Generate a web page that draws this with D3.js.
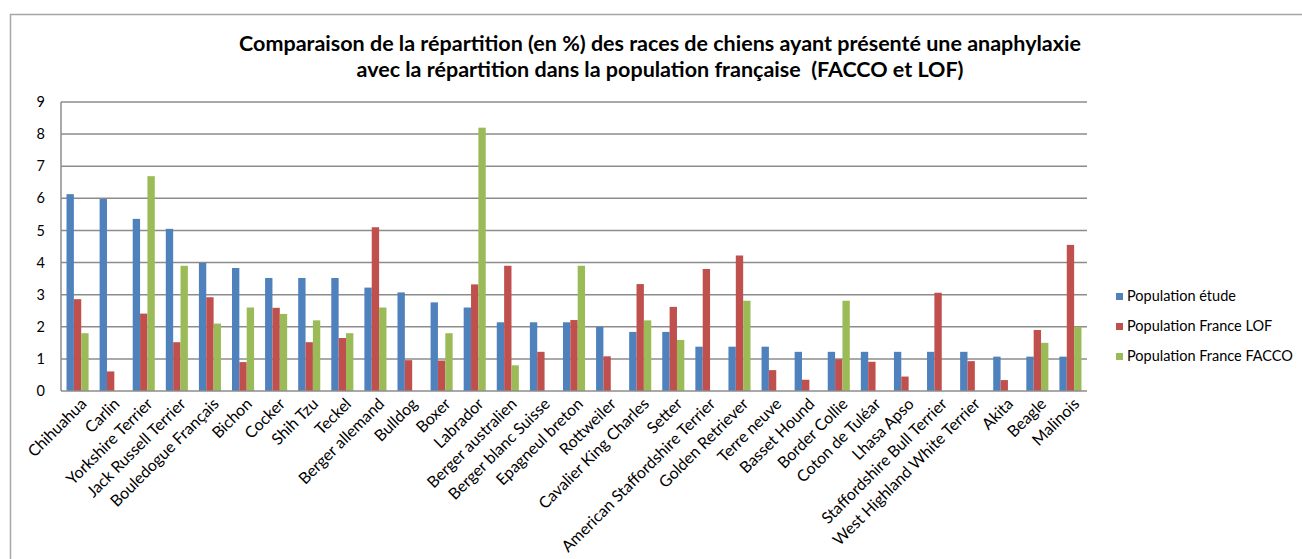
<!DOCTYPE html>
<html>
<head>
<meta charset="utf-8">
<script src="https://cdn.jsdelivr.net/npm/d3@7"></script>
<style>
  body { margin: 0; background: #fff; }
  svg text { font-family: Lato, "Open Sans", sans-serif; fill: #000; white-space: pre; }
</style>
</head>
<body>
<div id="canvas"></div>
<script>
const breeds = ['Chihuahua', 'Carlin', 'Yorkshire Terrier', 'Jack Russell Terrier', 'Bouledogue Français',
  'Bichon', 'Cocker', 'Shih Tzu', 'Teckel', 'Berger allemand', 'Bulldog', 'Boxer', 'Labrador',
  'Berger australien', 'Berger blanc Suisse', 'Epagneul breton', 'Rottweiler', 'Cavalier King Charles',
  'Setter', 'American Staffordshire Terrier', 'Golden Retriever', 'Terre neuve', 'Basset Hound',
  'Border Collie', 'Coton de Tuléar', 'Lhasa Apso', 'Staffordshire Bull Terrier',
  'West Highland White Terrier', 'Akita', 'Beagle', 'Malinois'];

const popEtude = [6.13, 5.98, 5.36, 5.05, 3.99, 3.83, 3.52, 3.52, 3.52, 3.22, 3.07, 2.76, 2.60,
  2.14, 2.14, 2.14, 2.00, 1.84, 1.84, 1.38, 1.38, 1.38, 1.22, 1.22, 1.22, 1.22, 1.22, 1.22, 1.07, 1.07, 1.07];
const popLOF = [2.86, 0.61, 2.41, 1.52, 2.92, 0.90, 2.59, 1.52, 1.65, 5.10, 0.96, 0.95, 3.32,
  3.90, 1.22, 2.21, 1.08, 3.33, 2.62, 3.80, 4.22, 0.65, 0.35, 0.99, 0.91, 0.45, 3.06, 0.93, 0.34, 1.90, 4.55];
const popFACCO = [1.80, 0, 6.69, 3.90, 2.10, 2.60, 2.40, 2.20, 1.80, 2.60, 0, 1.80, 8.20,
  0.80, 0, 3.90, 0, 2.20, 1.59, 0, 2.81, 0, 0, 2.81, 0, 0, 0, 0, 0, 1.50, 2.00];

const seriesNames = ['Population étude', 'Population France LOF', 'Population France FACCO'];
const seriesColors = ['#4F81BD', '#C0504D', '#9BBB59'];
const yTicks = [0, 1, 2, 3, 4, 5, 6, 7, 8, 9];

const w = 1302;
const h = 559;
const plot = { left: 61, right: 1087, top: 102, bottom: 391 };

const svg = d3.select('#canvas')
  .append('svg')
  .attr('width', w)
  .attr('height', h);

// chart frame
svg.append('rect')
  .attr('x', 10.5).attr('y', 14.5)
  .attr('width', 1400).attr('height', 700)
  .attr('fill', 'none')
  .attr('stroke', '#a6a6a6')
  .attr('stroke-width', 1.5);

// title
const title = svg.append('text')
  .attr('text-anchor', 'middle')
  .style('font-weight', 'bold')
  .style('font-size', '21.5px');
title.append('tspan').attr('x', 660).attr('y', 51)
  .text('Comparaison de la répartition (en %) des races de chiens ayant présenté une anaphylaxie');
title.append('tspan').attr('x', 660).attr('y', 77)
  .text('avec la répartition dans la population française  (FACCO et LOF)');

const xScale = d3.scaleBand()
  .domain(breeds)
  .range([plot.left, plot.right]);

const xInner = d3.scaleBand()
  .domain(d3.range(3))
  .range([0, xScale.bandwidth()])
  .paddingOuter(0.75);

const yScale = d3.scaleLinear()
  .domain([0, 9])
  .range([plot.bottom, plot.top]);

// gridlines
svg.append('g')
  .selectAll('line')
  .data(yTicks.slice(1))
  .enter()
  .append('line')
  .attr('x1', plot.left)
  .attr('x2', plot.right)
  .attr('y1', d => yScale(d))
  .attr('y2', d => yScale(d))
  .attr('stroke', '#8c8c8c')
  .attr('stroke-width', 1.5);

// y axis labels
svg.append('g')
  .selectAll('text')
  .data(yTicks)
  .enter()
  .append('text')
  .attr('x', 45)
  .attr('y', d => yScale(d))
  .attr('dy', '0.35em')
  .attr('text-anchor', 'end')
  .style('font-size', '14.5px')
  .text(d => d);

// bars
const table = breeds.map((b, i) => [popEtude[i], popLOF[i], popFACCO[i]]);

const groups = svg.append('g')
  .selectAll('g')
  .data(table)
  .enter()
  .append('g')
  .attr('transform', (d, i) => 'translate(' + xScale(breeds[i]) + ',0)');

groups.selectAll('rect')
  .data(d => d)
  .enter()
  .append('rect')
  .attr('x', (d, j) => xInner(j))
  .attr('y', d => yScale(d))
  .attr('width', xInner.bandwidth())
  .attr('height', d => yScale(0) - yScale(d))
  .attr('fill', (d, j) => seriesColors[j]);

// axes lines
svg.append('line')
  .attr('x1', plot.left).attr('x2', plot.left)
  .attr('y1', plot.top).attr('y2', plot.bottom)
  .attr('stroke', '#8c8c8c').attr('stroke-width', 1.5);
svg.append('line')
  .attr('x1', plot.left).attr('x2', plot.right)
  .attr('y1', plot.bottom).attr('y2', plot.bottom)
  .attr('stroke', '#8c8c8c').attr('stroke-width', 1.5);

// x labels
svg.append('g')
  .selectAll('text')
  .data(breeds)
  .enter()
  .append('text')
  .attr('transform', d => 'translate(' + (xScale(d) + xScale.bandwidth() / 2 + 6) + ',' + (plot.bottom + 10) + ') rotate(-45)')
  .attr('text-anchor', 'end')
  .attr('dy', '0.35em')
  .style('font-size', '16px')
  .text(d => d);

// legend
const legend = svg.append('g')
  .attr('transform', 'translate(1116, 296)');

const items = legend.selectAll('g')
  .data(seriesNames)
  .enter()
  .append('g')
  .attr('transform', (d, i) => 'translate(0,' + (i * 30) + ')');

items.append('rect')
  .attr('x', 0).attr('y', -3)
  .attr('width', 7).attr('height', 7)
  .attr('fill', (d, i) => seriesColors[i]);

items.append('text')
  .attr('x', 11)
  .attr('y', 0)
  .attr('dy', '0.35em')
  .style('font-size', '14.5px')
  .text(d => d);
</script>
</body>
</html>
